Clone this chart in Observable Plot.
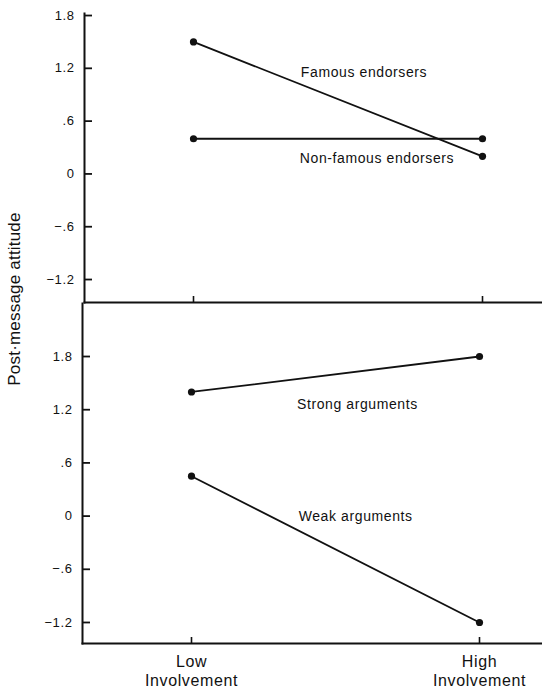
<!DOCTYPE html>
<html><head><meta charset="utf-8">
<script src="https://cdn.jsdelivr.net/npm/d3@7"></script>
<script src="https://cdn.jsdelivr.net/npm/@observablehq/plot@0.6"></script>
<style>
body{margin:0;background:#fff;}
#wrap{position:relative;width:542px;height:691px;font-family:"Liberation Sans",Arial,sans-serif;color:#111;}
#top,#bottom{position:absolute;left:0;}
#top{top:0}
#bottom{top:303px}
#ylab{position:absolute;left:15px;top:299px;transform:translate(-50%,-50%) rotate(-90deg);font-size:17px;white-space:nowrap;letter-spacing:0.2px;}
</style></head><body>
<div id="wrap"><div id="top"></div><div id="bottom"></div><div id="ylab">Post·message attitude</div></div>
<script>
const involvement = ["Low", "High"];
const famous = [1.5, 0.2];
const nonFamous = [0.4, 0.4];
const strong = [1.4, 1.8];
const weak = [0.45, -1.2];
const yTicks = [1.8, 1.2, 0.6, 0, -0.6, -1.2];
const yTickLabels = ["1.8", "1.2", ".6", "0", "−.6", "−1.2"];
const xTickLabels = ["Low\nInvolvement", "High\nInvolvement"];
const seriesTop = ["Famous endorsers", "Non-famous endorsers"];
const seriesBottom = ["Strong arguments", "Weak arguments"];

const rows = (names, arrays) => names.flatMap((s, j) => arrays[j].map((v, i) => ({series: s, x: i, y: v})));
const topRows = rows(seriesTop, [famous, nonFamous]);
const bottomRows = rows(seriesBottom, [strong, weak]);
const yFmt = d => yTickLabels[yTicks.indexOf(d)];

const style = {fontFamily: "Liberation Sans, Arial, sans-serif", fontSize: "13px", color: "#111", letterSpacing: "0.6px", background: "transparent", overflow: "visible"};

const topPlot = Plot.plot({
  width: 542, height: 303,
  marginLeft: 84, marginRight: 0, marginTop: 13, marginBottom: 1,
  style,
  x: {type: "linear", domain: [0, 1], range: [193, 482], axis: null},
  y: {domain: [-1.461, 1.823], axis: null},
  marks: [
    Plot.frame({anchor: "left", strokeWidth: 2, stroke: "#111"}),
    Plot.frame({anchor: "bottom", strokeWidth: 2, stroke: "#111"}),
    Plot.axisY({ticks: yTicks, tickFormat: yFmt, tickSize: -8, tickPadding: 18, strokeWidth: 1.8, fontSize: 13, label: null}),
    Plot.axisX({ticks: [0, 1], tickFormat: () => "", tickSize: -6, strokeWidth: 1.6, label: null}),
    Plot.line(topRows, {x: "x", y: "y", z: "series", stroke: "#111", strokeWidth: 1.8}),
    Plot.dot(topRows, {x: "x", y: "y", r: 3.6, fill: "#111"}),
    Plot.text([seriesTop[0]], {x: 0.59, y: 1.158, text: d => d, fontSize: 14, fill: "#111"}),
    Plot.text([seriesTop[1]], {x: 0.635, y: 0.18, text: d => d, fontSize: 14, fill: "#111"})
  ]
});

const bottomPlot = Plot.plot({
  width: 542, height: 388,
  marginLeft: 82, marginRight: 0, marginTop: 0, marginBottom: 48,
  style,
  x: {type: "linear", domain: [0, 1], range: [191, 479], axis: null},
  y: {domain: [-1.437, 2.398], axis: null},
  marks: [
    Plot.frame({anchor: "left", strokeWidth: 2, stroke: "#111"}),
    Plot.frame({anchor: "bottom", strokeWidth: 2, stroke: "#111"}),
    Plot.axisY({ticks: yTicks, tickFormat: yFmt, tickSize: -8, tickPadding: 18, strokeWidth: 1.8, fontSize: 13, label: null}),
    Plot.axisX({ticks: [0, 1], tickFormat: i => xTickLabels[i], tickSize: -6, tickPadding: 16, strokeWidth: 1.6, fontSize: 16, lineHeight: 1.2, label: null}),
    Plot.line(bottomRows, {x: "x", y: "y", z: "series", stroke: "#111", strokeWidth: 1.8}),
    Plot.dot(bottomRows, {x: "x", y: "y", r: 3.6, fill: "#111"}),
    Plot.text([seriesBottom[0]], {x: 0.576, y: 1.259, text: d => d, fontSize: 14, fill: "#111"}),
    Plot.text([seriesBottom[1]], {x: 0.57, y: 0.0, text: d => d, fontSize: 14, fill: "#111"})
  ]
});

document.getElementById("top").appendChild(topPlot);
document.getElementById("bottom").appendChild(bottomPlot);
</script>
</body></html>
